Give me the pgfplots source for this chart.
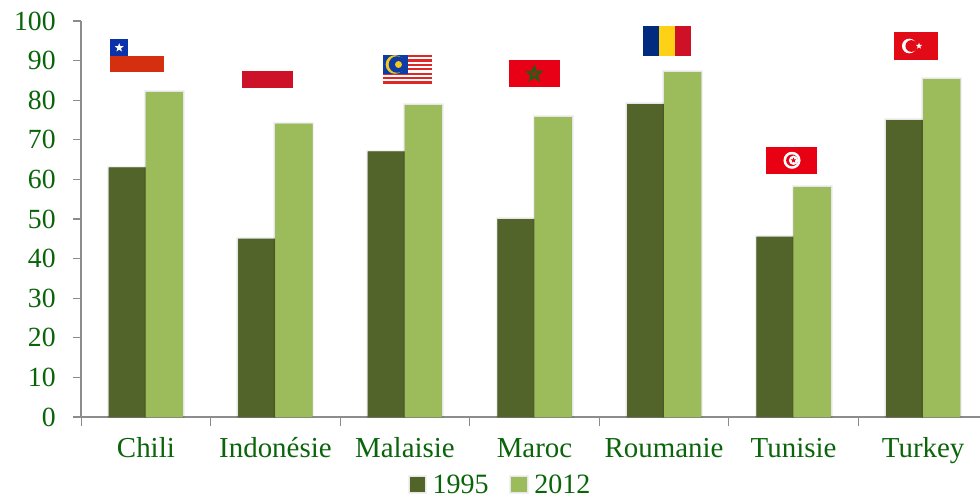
\documentclass[border=0pt]{standalone}
\usepackage{fontspec}
\setmainfont{Liberation Serif}
\usepackage{pgfplots}
\pgfplotsset{compat=1.18}
\usetikzlibrary{shapes.geometric}
\definecolor{dk}{HTML}{53642A}
\definecolor{lt}{HTML}{9CBB5A}
\definecolor{tx}{HTML}{0A640A}
\definecolor{ax}{HTML}{8C8C8C}
\begin{document}
\begin{tikzpicture}
\useasboundingbox (-60.75pt,-62.25pt) rectangle (674.25pt,312.75pt);
\begin{axis}[
  at={(0pt,0pt)}, anchor=south west,
  scale only axis, width=674.25pt, height=297pt,
  xmin=-0.501, xmax=6.439, ymin=0, ymax=100,
  ybar=0pt, bar width=27.75pt,
  axis x line=bottom, axis y line=left,
  axis line style={draw=ax,line width=0.9pt,-},
  tick align=outside, major tick length=6pt, minor tick length=7pt,
  xtick={0,1,2,3,4,5,6},
  xticklabels={Chili,Indonésie,Malaisie,Maroc,Roumanie,Tunisie,Turkey},
  minor xtick={-0.5,0.5,1.5,2.5,3.5,4.5,5.5},
  every major x tick/.style={draw=none},
  every minor x tick/.style={draw=ax,line width=0.9pt},
  ytick={0,10,...,100},
  every major y tick/.style={draw=ax,line width=0.9pt},
  /pgf/number format/assume math mode=true,
  tick label style={text=tx},
  yticklabel style={font=\fontsize{20.8}{22}\selectfont,xshift=-9.5pt},
  xticklabel style={font=\fontsize{21.7}{23}\selectfont,text height=15pt,text depth=0pt,anchor=north,yshift=-5.5pt},
  legend style={at={(0.4665,-0.172)},anchor=center,draw=none,fill=none,
    legend columns=2,font=\fontsize{21}{23}\selectfont,text=tx,
    /tikz/every odd column/.append style={column sep=2.2pt},
    /tikz/every even column/.append style={column sep=13.5pt},
    inner sep=0pt},
  legend image code/.code={\fill[#1] (0pt,-5.5pt) rectangle (11.5pt,6pt);},
]
\addplot[fill=dk,draw=none,preaction={draw=black,draw opacity=0.05,line width=3pt},preaction={draw=black,draw opacity=0.05,line width=1.5pt}] coordinates
 {(0,63) (1,45) (2,67) (3,50) (4,79) (5,45.5) (6,75)};
\addplot[fill=lt,draw=none,preaction={draw=black,draw opacity=0.05,line width=3pt},preaction={draw=black,draw opacity=0.05,line width=1.5pt}] coordinates
 {(0,82) (1,74) (2,78.7) (3,75.7) (4,87) (5,58) (6,85.3)};
\legend{1995,2012}
\end{axis}
\begin{scope}[xshift=-60.75pt,yshift=312.75pt,x=0.75pt,y=-0.75pt]
% Chile
\fill[fill={rgb,255:red,212;green,48;blue,16}] (110,55.7) rectangle (163.7,72);
\fill[fill={rgb,255:red,10;green,50;blue,170}] (110,39.3) rectangle (128.3,55.7);
\node[star,star points=5,star point ratio=2.4,fill=white,inner sep=0pt,minimum size=7pt] at (119.2,47.7) {};
% Indonesia
\fill[fill={rgb,255:red,205;green,17;blue,40}] (241.7,71) rectangle (293,88);
% Malaysia
\foreach \i in {0,2,4,6,8,10,12}{
  \fill[fill={rgb,255:red,222;green,40;blue,40}] (383.3,{55+\i*30.7/14}) rectangle (431.7,{55+(\i+1)*30.7/14});
}
\fill[fill={rgb,255:red,14;green,60;blue,165}] (383.3,55) rectangle (407.7,74);
\fill[fill={rgb,255:red,245;green,200;blue,30}] (395,64.5) circle (7pt);
\fill[fill={rgb,255:red,14;green,60;blue,165}] (397,64.5) circle (6.2pt);
\fill[fill={rgb,255:red,245;green,200;blue,30}] (398.5,64.5) circle (2.6pt);
% Morocco
\fill[fill={rgb,255:red,232;green,0;blue,22}] (509,59.7) rectangle (560,87.3);
\node[star,star points=5,star point ratio=2.4,draw={rgb,255:red,20;green,100;blue,20},fill={rgb,255:red,130;green,50;blue,20},line width=1.2pt,inner sep=0pt,minimum size=11pt] at (534.3,74) {};
% Romania
\fill[fill={rgb,255:red,0;green,43;blue,127}] (643,26.3) rectangle (659.1,56.3);
\fill[fill={rgb,255:red,252;green,209;blue,22}] (659.1,26.3) rectangle (675.2,56.3);
\fill[fill={rgb,255:red,206;green,17;blue,38}] (675.2,26.3) rectangle (691.3,56.3);
% Tunisia
\fill[fill={rgb,255:red,232;green,0;blue,19}] (766,147) rectangle (817,173.7);
\fill[white] (792,160.3) circle (6.4pt);
\fill[fill={rgb,255:red,232;green,0;blue,19}] (792,160.3) circle (4.4pt);
\fill[white] (793.5,160.3) circle (3.5pt);
\node[star,star points=5,star point ratio=2.4,fill={rgb,255:red,232;green,0;blue,19},inner sep=0pt,minimum size=4.5pt] at (793.5,160.3) {};
% Turkey
\fill[fill={rgb,255:red,227;green,10;blue,23}] (894.3,32.3) rectangle (938,59.7);
\fill[white] (909.3,46) circle (5.5pt);
\fill[fill={rgb,255:red,227;green,10;blue,23}] (911.3,46) circle (4.4pt);
\node[star,star points=5,star point ratio=2.4,fill=white,inner sep=0pt,minimum size=5pt] at (919,46) {};
\end{scope}
\end{tikzpicture}
\end{document}
